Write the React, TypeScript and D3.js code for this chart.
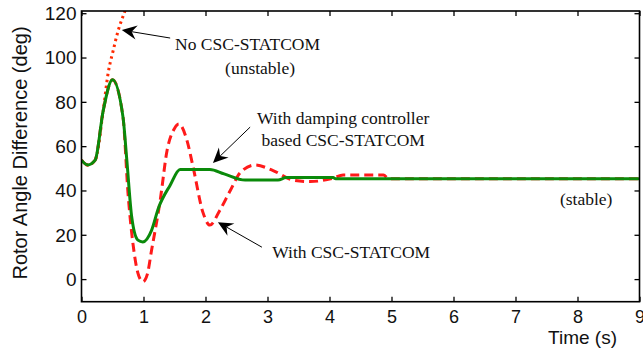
// @ts-nocheck
import { useRef, useEffect } from "react";
import * as d3 from "d3";

const timeDamping = [0, 0.1, 0.22, 0.35, 0.5, 0.67, 0.73, 0.81, 0.91, 0.99, 1.13, 1.24, 1.43, 1.59, 2.07, 2.3, 2.64, 3.17, 3.3, 4.06, 4.1, 9];
const angleDamping = [53.7, 51.5, 53.7, 76, 90, 73, 54, 28, 17.6, 16.8, 22, 32, 42.4, 49.5, 49.5, 47.5, 44.7, 44.7, 45.8, 45.8, 45.3, 45.3];

const timeCsc = [0, 0.1, 0.22, 0.35, 0.5, 0.67, 0.75, 0.83, 0.91, 0.99, 1.06, 1.13, 1.27, 1.38, 1.5, 1.57, 1.7, 1.8, 1.96, 2.07, 2.23, 2.4, 2.56, 2.8, 3.09, 3.41, 3.69, 4.06, 4.22, 4.87, 4.95, 9];
const angleCsc = [53.7, 51.5, 53.7, 76, 90, 73, 38.8, 16, 2.7, -1.2, 2, 13, 35.7, 58, 68, 70, 62.7, 50.6, 30, 24.4, 31, 40, 48, 51.5, 49, 44.7, 44, 45.6, 47, 47, 45.3, 45.3];

const timeNone = [0, 0.1, 0.22, 0.35, 0.43, 0.51, 0.59, 0.7, 0.78];
const angleNone = [53.7, 51.5, 53.7, 76, 93, 103, 112, 121, 128];

const xTicks = [0, 1, 2, 3, 4, 5, 6, 7, 8, 9];
const yTicks = [0, 20, 40, 60, 80, 100, 120];

const W = 643;
const H = 350;
const margin = { top: 11, right: 3.5, bottom: 48.3, left: 81.5 };

const arrowHead = (g, x1, y1, x2, y2) => {
  // tail (x1,y1) -> tip (x2,y2)
  const a = Math.atan2(y2 - y1, x2 - x1);
  const L = 15, w = 7, n = 10;
  const bx = x2 - L * Math.cos(a), by = y2 - L * Math.sin(a);
  const nx = x2 - n * Math.cos(a), ny = y2 - n * Math.sin(a);
  const px = -Math.sin(a), py = Math.cos(a);
  g.append("line")
    .attr("x1", x1).attr("y1", y1).attr("x2", nx).attr("y2", ny)
    .attr("stroke", "#000").attr("stroke-width", 1);
  g.append("path")
    .attr("d", `M${x2},${y2}L${bx + w * px},${by + w * py}L${nx},${ny}L${bx - w * px},${by - w * py}Z`)
    .attr("fill", "#000");
};

const RotorChart = () => {
  const ref = useRef(null);

  useEffect(() => {
    const svg = d3.select(ref.current);
    svg.selectAll("*").remove();

    const x = d3.scaleLinear().domain([0, 9]).range([margin.left, W - margin.right]);
    const y = d3.scaleLinear().domain([-10.2, 121]).range([H - margin.bottom, margin.top]);

    svg.append("defs").append("clipPath").attr("id", "plotclip")
      .append("rect")
      .attr("x", margin.left).attr("y", margin.top)
      .attr("width", W - margin.left - margin.right)
      .attr("height", H - margin.top - margin.bottom);

    const line = d3.line()
      .x((d) => x(d[0]))
      .y((d) => y(d[1]))
      .curve(d3.curveMonotoneX);

    const plot = svg.append("g").attr("clip-path", "url(#plotclip)");
    plot.append("path")
      .datum(timeNone.map((t, i) => [t, angleNone[i]]))
      .attr("fill", "none").attr("stroke", "#ff2a00").attr("stroke-width", 3)
      .attr("stroke-dasharray", "2.5,3.5").attr("d", line);
    plot.append("path")
      .datum(timeCsc.map((t, i) => [t, angleCsc[i]]))
      .attr("fill", "none").attr("stroke", "#ff1a1a").attr("stroke-width", 3)
      .attr("stroke-dasharray", "9,5").attr("d", line);
    plot.append("path")
      .datum(timeDamping.map((t, i) => [t, angleDamping[i]]))
      .attr("fill", "none").attr("stroke", "#0a8a0a").attr("stroke-width", 3)
      .attr("d", line);

    // axes with inward ticks
    const fmt = d3.format("d");
    const gx = svg.append("g").attr("transform", `translate(0,${H - margin.bottom})`)
      .call(d3.axisBottom(x).tickValues(xTicks).tickSize(-5).tickPadding(9).tickFormat(fmt));
    const gy = svg.append("g").attr("transform", `translate(${margin.left},0)`)
      .call(d3.axisLeft(y).tickValues(yTicks).tickSize(-5).tickPadding(5).tickFormat(fmt));
    svg.append("g").attr("transform", `translate(0,${margin.top})`)
      .call(d3.axisTop(x).tickValues(xTicks).tickSize(-5).tickFormat(""));
    svg.append("g").attr("transform", `translate(${W - margin.right},0)`)
      .call(d3.axisRight(y).tickValues(yTicks).tickSize(-5).tickFormat(""));
    svg.selectAll(".domain").remove();
    svg.selectAll(".tick line").attr("stroke", "#000").attr("stroke-width", 1.3);
    gx.selectAll("text").attr("font-family", "Liberation Sans, Arial, sans-serif")
      .attr("font-size", 18).attr("fill", "#111");
    gy.selectAll("text").attr("font-family", "Liberation Sans, Arial, sans-serif")
      .attr("font-size", 19).attr("fill", "#111").attr("dy", "0.34em");

    svg.append("rect")
      .attr("x", margin.left).attr("y", margin.top)
      .attr("width", W - margin.left - margin.right)
      .attr("height", H - margin.top - margin.bottom)
      .attr("fill", "none").attr("stroke", "#000").attr("stroke-width", 1.6);

    svg.append("text")
      .attr("x", 617).attr("y", 344).attr("text-anchor", "end")
      .attr("font-family", "Liberation Sans, Arial, sans-serif").attr("font-size", 19)
      .attr("fill", "#111").text("Time (s)");
    svg.append("text")
      .attr("transform", "translate(27,153) rotate(-90)").attr("text-anchor", "middle")
      .attr("font-family", "Liberation Sans, Arial, sans-serif").attr("font-size", 20)
      .attr("fill", "#111").text("Rotor Angle Difference (deg)");

    // annotations
    const ann = svg.append("g")
      .attr("font-family", "Liberation Serif, Times New Roman, serif")
      .attr("font-size", 17.5).attr("fill", "#111");
    ann.append("text").attr("x", x(1.51)).attr("y", y(103.5)).text("No CSC-STATCOM");
    ann.append("text").attr("x", x(2.88)).attr("y", y(92.5)).attr("text-anchor", "middle").text("(unstable)");
    ann.append("text").attr("x", x(4.22)).attr("y", y(70)).attr("text-anchor", "middle").text("With damping controller");
    ann.append("text").attr("x", x(4.22)).attr("y", y(60)).attr("text-anchor", "middle").text("based CSC-STATCOM");
    ann.append("text").attr("x", x(4.35)).attr("y", y(9.5)).attr("text-anchor", "middle").text("With CSC-STATCOM");
    ann.append("text").attr("x", x(8.14)).attr("y", y(33.3)).attr("text-anchor", "middle").text("(stable)");

    const arrows = svg.append("g");
    arrowHead(arrows, x(1.43), y(108.8), x(0.65), y(112.4));
    arrowHead(arrows, x(2.72), y(68.6), x(2.12), y(52.4));
    arrowHead(arrows, x(2.91), y(14.4), x(2.2), y(25.7));
  }, []);

  return (
    <svg ref={ref} width={W} height={H}
      style={{ position: "absolute", left: 0, top: 0, background: "#fff" }} />
  );
};

export default function App() {
  return <RotorChart />;
}
